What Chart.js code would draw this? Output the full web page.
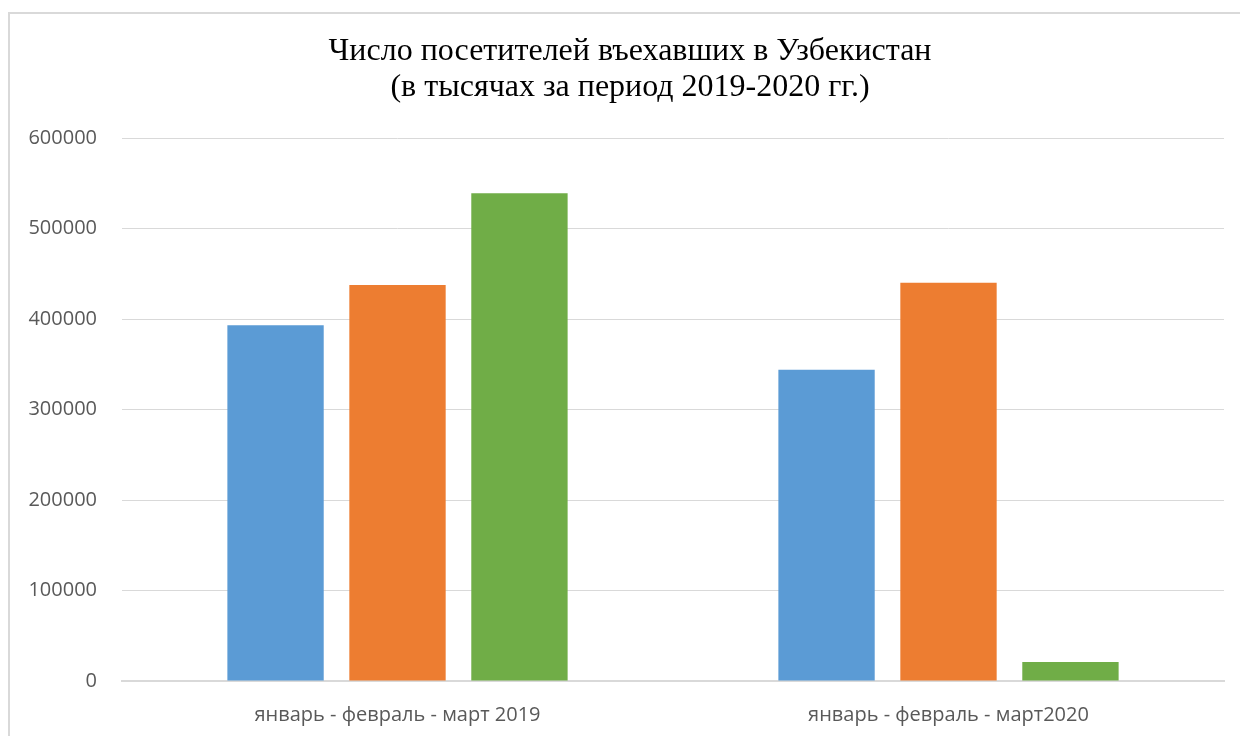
<!DOCTYPE html>
<html>
<head>
<meta charset="utf-8">
<script src="https://cdn.jsdelivr.net/npm/chart.js@4/dist/chart.umd.min.js"></script>
<style>
  html, body { margin: 0; padding: 0; background: #ffffff; }
  #wrap { position: absolute; left: 0; top: 0; width: 1240px; height: 736px; overflow: hidden; }
  #frame { position: absolute; left: 8px; top: 12px; width: 1300px; height: 800px; border-left: 2px solid #d9d9d9; border-top: 2px solid #d9d9d9; }
  #c { position: absolute; left: 0; top: 0; }
</style>
</head>
<body>
<div id="wrap">
  <div id="frame"></div>
  <canvas id="c" width="1240" height="736"></canvas>
</div>
<script>
const titleLines = ["Число посетителей въехавших в Узбекистан", "(в тысячах за период 2019-2020 гг.)"];
const categories = ["январь - февраль - март 2019", "январь - февраль - март2020"];
const seriesNames = ["январь", "февраль", "март"];
const january = [393000, 344000];
const february = [437500, 440000];
const march = [539000, 21000];
const yTicks = [0, 100000, 200000, 300000, 400000, 500000, 600000];

const colors = ["#5B9BD5", "#ED7D31", "#70AD47"];
const seriesValues = [january, february, march];

const datasets = seriesNames.map((n, i) => ({
  label: n,
  data: seriesValues[i],
  backgroundColor: colors[i],
  borderWidth: 0,
  categoryPercentage: 0.664,
  barPercentage: 0.79
}));

// Title drawn centred on the outer chart frame (Excel-style), as canvas text
const titlePlugin = {
  id: 'frameTitle',
  afterDraw(chart) {
    const ctx = chart.ctx;
    ctx.save();
    ctx.fillStyle = '#000000';
    ctx.font = '32px "Liberation Serif", "Times New Roman", serif';
    ctx.textAlign = 'center';
    ctx.textBaseline = 'middle';
    ctx.fillText(titleLines[0], 630, 52);
    ctx.fillText(titleLines[1], 630, 88);
    ctx.restore();
  }
};

new Chart(document.getElementById('c'), {
  type: 'bar',
  data: { labels: categories, datasets },
  plugins: [titlePlugin],
  options: {
    responsive: false,
    animation: false,
    devicePixelRatio: 1,
    layout: { padding: { left: 0, right: 16, top: 138, bottom: 0 } },
    plugins: {
      legend: { display: false },
      tooltip: { enabled: false },
      title: { display: false }
    },
    scales: {
      x: {
        grid: { display: false, drawTicks: false },
        border: { display: true, color: '#d9d9d9', width: 2 },
        ticks: { color: '#595959', font: { family: '"Open Sans", sans-serif', size: 20 }, padding: 22, maxRotation: 0 },
        afterFit: (s) => { s.height = 55; }
      },
      y: {
        min: 0, max: 600000,
        afterBuildTicks: (s) => { s.ticks = yTicks.map(v => ({ value: v })); },
        grid: { color: '#d9d9d9', lineWidth: 1, drawTicks: false },
        border: { display: false },
        ticks: { color: '#595959', font: { family: '"Open Sans", sans-serif', size: 20 }, padding: 25, callback: (v) => String(v) },
        afterFit: (s) => { s.width = 122; }
      }
    }
  }
});
</script>
</body>
</html>
